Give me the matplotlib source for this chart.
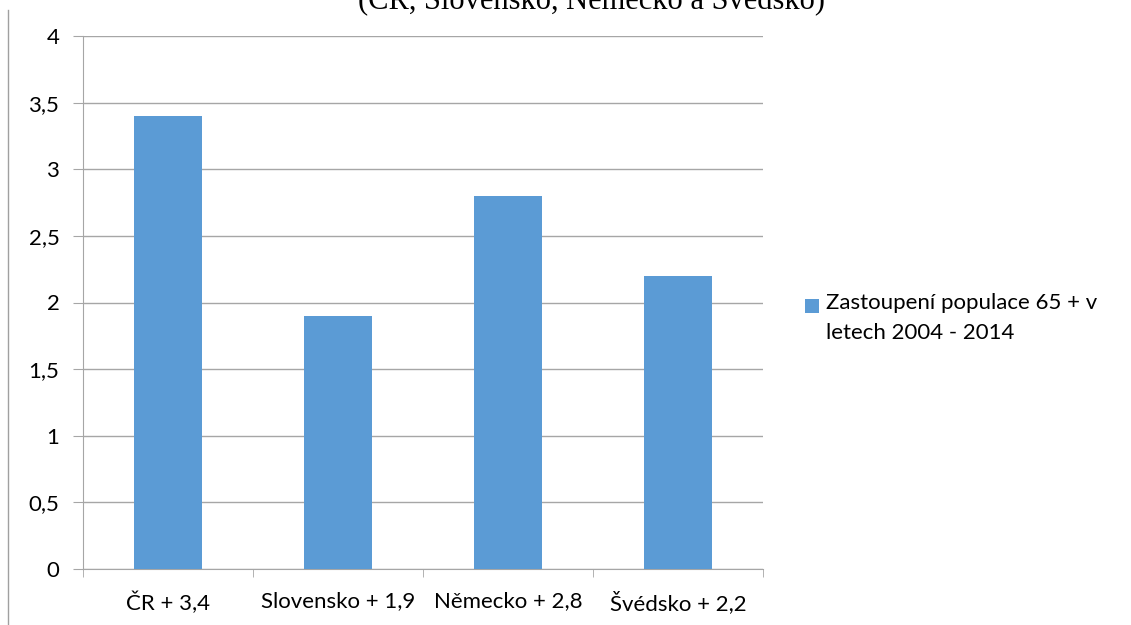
import matplotlib
matplotlib.use('Agg')
import matplotlib.pyplot as plt
from matplotlib.lines import Line2D
from matplotlib.patches import Rectangle

# data
categories = ['ČR + 3,4', 'Slovensko + 1,9', 'Německo + 2,8', 'Švédsko + 2,2']
values = [3.4, 1.9, 2.8, 2.2]
yticks = [0, 0.5, 1, 1.5, 2, 2.5, 3, 3.5, 4]
ytick_labels = ['0', '0,5', '1', '1,5', '2', '2,5', '3', '3,5', '4']
series_name = 'Zastoupení populace 65 + v\nletech 2004 - 2014'
title = '(ČR, Slovensko, Německo a Švédsko)'

bar_color = '#5b9bd5'
grid_color = '#a6a6a6'
font = 'Lato'
fs = 16

fig = plt.figure(figsize=(11.31, 6.25), dpi=100)
ax = fig.add_axes([83 / 1131, 56 / 625, 680 / 1131, 533 / 625])

x = range(len(categories))
ax.bar(x, values, width=0.4, color=bar_color, zorder=3)

ax.set_xlim(-0.5, len(categories) - 0.5)
ax.set_ylim(0, 4)
ax.set_yticks(yticks)
ax.set_yticklabels(ytick_labels, fontfamily=font, fontsize=fs, color='black')
ax.yaxis.grid(True, color=grid_color, linewidth=1)
ax.set_axisbelow(True)
ax.tick_params(axis='y', length=7, color=grid_color, pad=10)

# category labels, ticks between categories
ax.set_xticks(list(x))
ax.set_xticklabels(categories, fontfamily=font, fontsize=fs, color='black')
ax.tick_params(axis='x', which='major', length=0, pad=16)
ax.set_xticks([i - 0.5 for i in range(len(categories) + 1)], minor=True)
ax.tick_params(axis='x', which='minor', length=6, color=grid_color)

for side in ['top', 'right']:
    ax.spines[side].set_visible(False)
ax.spines['left'].set_color(grid_color)
ax.spines['bottom'].set_color(grid_color)

# legend: square lines up with the first text line, as in the reference
fig.add_artist(Rectangle((805 / 1131, 1 - 313 / 625), 14 / 1131, 14 / 625,
                         transform=fig.transFigure, facecolor=bar_color, edgecolor='none'))
fig.text(826 / 1131, 1 - 293 / 625, series_name, ha='left', va='top',
         fontfamily=font, fontsize=fs, linespacing=1.65, multialignment='left')

# title is cut off by the top edge in the reference
fig.text(591 / 1131, 1 - 8 / 625, title, ha='center', va='baseline',
         fontfamily='Liberation Serif', fontsize=22)

# thin border on the left
fig.add_artist(Line2D([8 / 1131, 8 / 1131], [0, 1 - 10 / 625], transform=fig.transFigure,
                      color='#a0a0a0', linewidth=1))

fig.savefig('out.png', dpi=100)
